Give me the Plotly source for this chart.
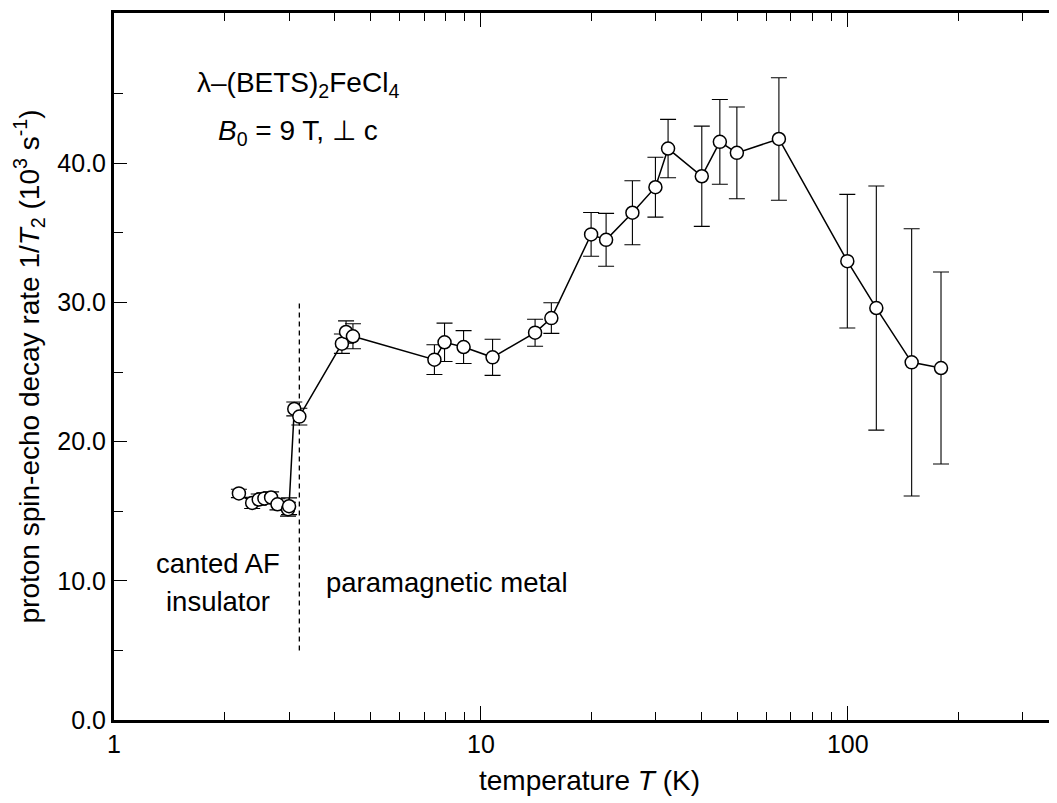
import plotly.graph_objects as go
import numpy as np

# ---- data ----
temperature_K = [2.19, 2.38, 2.48, 2.57, 2.68, 2.79, 2.98, 3.00, 3.10, 3.20,
                 4.18, 4.29, 4.48, 7.47, 7.96, 8.97, 10.76, 14.05, 15.56,
                 19.97, 21.94, 25.88, 29.9, 32.37, 40.0, 44.8, 49.85, 64.9,
                 99.7, 119.6, 149.3, 179.5]
rate_1e3 = [16.28, 15.60, 15.84, 15.92, 15.99, 15.50, 15.15, 15.36, 22.35, 21.80,
            27.04, 27.88, 27.57, 25.89, 27.14, 26.80, 26.06, 27.83, 28.88,
            34.89, 34.50, 36.45, 38.28, 41.06, 39.07, 41.54, 40.75, 41.75,
            32.97, 29.60, 25.70, 25.29]
rate_err = [0.3, 0.4, 0.4, 0.4, 0.4, 0.4, 0.5, 0.6, 0.5, 0.6,
            0.7, 0.8, 0.9, 1.07, 1.38, 1.18, 1.3, 0.97, 1.1,
            1.57, 1.9, 2.3, 2.15, 2.1, 3.6, 3.05, 3.3, 4.4,
            4.8, 8.77, 9.6, 6.9]

transition_T = [3.2, 3.2]
transition_y = [5.0, 30.0]

y_major = [0, 10, 20, 30, 40]
y_major_text = ["0.0", "10.0", "20.0", "30.0", "40.0"]
y_minor = [5, 15, 25, 35, 45]
x_major = [1, 10, 100]
x_major_text = ["1", "10", "100"]
x_minor = [2, 3, 4, 5, 6, 7, 8, 9, 20, 30, 40, 50, 60, 70, 80, 90, 200, 300]

FONT = "Liberation Sans, Arial, Helvetica, sans-serif"
W, H = 1057, 803
L, R, T, B = 106, 0, 5, 91
PW = W - L - R
PH = H - T - B
OFF = 8  # page offset of the figure in the screenshot

fig = go.Figure()

fig.add_trace(go.Scatter(
    x=transition_T, y=transition_y, mode="lines",
    line=dict(color="black", width=1.3, dash="5px,4px"),
    hoverinfo="skip", showlegend=False))

fig.add_trace(go.Scatter(
    x=temperature_K, y=rate_1e3, mode="lines+markers",
    line=dict(color="black", width=1.5),
    marker=dict(symbol="circle", size=13, color="white",
                line=dict(color="black", width=1.5)),
    error_y=dict(type="data", array=rate_err, visible=True,
                 color="black", thickness=1.1, width=8),
    showlegend=False))

fig.update_xaxes(
    type="log", range=[0, 2.592],
    showline=True, linecolor="black", linewidth=3, mirror="allticks",
    ticks="inside", ticklen=14, tickwidth=1, tickcolor="black",
    tickvals=x_major, ticktext=x_major_text,
    minor=dict(ticks="inside", ticklen=8, tickwidth=1, tickcolor="black",
               tickvals=x_minor),
    showgrid=False, zeroline=False,
    tickfont=dict(family=FONT, size=25, color="black"),
    title=dict(text="temperature <i>T</i> (K)",
               font=dict(family=FONT, size=28, color="black"), standoff=14),
)
fig.update_yaxes(
    range=[0, 50.8],
    showline=True, linecolor="black", linewidth=3, mirror=False,
    ticks="inside", ticklen=13, tickwidth=1, tickcolor="black",
    tickvals=y_major, ticktext=y_major_text,
    minor=dict(ticks="inside", ticklen=9, tickwidth=1, tickcolor="black",
               tickvals=y_minor),
    showgrid=False, zeroline=False,
    tickfont=dict(family=FONT, size=25, color="black"),
    title=dict(text="proton spin-echo decay rate 1/<i>T</i><sub>2</sub> (10<sup>3</sup> s<sup>-1</sup>)",
               font=dict(family=FONT, size=28, color="black"), standoff=10),
)

# right-hand major tick stubs (right frame lies just outside the picture)
for yv in y_major[1:]:
    fig.add_shape(type="line", xref="paper", yref="y",
                  x0=1 - 13.0 / PW, x1=1, y0=yv, y1=yv,
                  line=dict(color="black", width=1))

def px(xp, yp):
    # page pixel -> paper coords
    return (xp - OFF - L) / PW, (H - B - (yp - OFF)) / PH

anns = [
    ("λ–(BETS)<sub>2</sub>FeCl<sub>4</sub>", 298, 84, 28),
    ("<i>B</i><sub>0</sub> = 9 T, ⊥ c", 298, 133, 28),
    ("canted AF", 218, 563, 27.5),
    ("insulator", 218, 601, 27.5),
    ("paramagnetic metal", 447, 582, 27.5),
]
for text, xp, yp, fs in anns:
    xa, ya = px(xp, yp)
    fig.add_annotation(text=text, x=xa, y=ya, xref="paper", yref="paper",
                       showarrow=False, xanchor="center", yanchor="middle",
                       font=dict(family=FONT, size=fs, color="black"))

fig.update_layout(
    width=W, height=H,
    margin=dict(l=L, r=R, t=T, b=B),
    paper_bgcolor="white", plot_bgcolor="white",
    showlegend=False,
)

fig.write_html("out.html")
